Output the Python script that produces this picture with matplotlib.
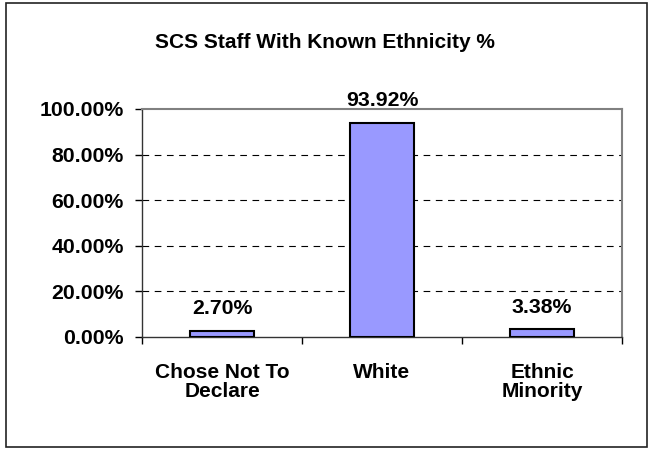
import numpy as np
import matplotlib.pyplot as plt
from matplotlib.patches import Rectangle

plt.rcParams['font.family'] = ['Liberation Sans', 'DejaVu Sans']
plt.rcParams['font.weight'] = 'bold'

# data
categories = ["Chose Not To\nDeclare", "White", "Ethnic\nMinority"]
shares = [2.70, 93.92, 3.38]
labels = ["2.70%", "93.92%", "3.38%"]
yticks = [0, 20, 40, 60, 80, 100]

fig = plt.figure(figsize=(6.5, 4.5), dpi=100)
ax = fig.add_axes([142 / 650, 1 - 337 / 450, 480 / 650, 228 / 450])

x = np.arange(len(categories))
ax.bar(x, shares, width=0.4, color='#9999FF', edgecolor='black', linewidth=1.5, zorder=3)

# value labels above the bars
for xi, v, lab in zip(x, shares, labels):
    ax.annotate(lab, (xi, v), xytext=(0, 12), textcoords='offset points',
                ha='center', va='baseline', fontsize=15.3, fontweight='bold')

ax.set_xlim(-0.5, len(categories) - 0.5)
ax.set_ylim(0, 100)

ax.set_yticks(yticks)
ax.set_yticklabels(["%.2f%%" % t for t in yticks], fontsize=15.3, fontweight='bold')
ax.tick_params(axis='y', direction='out', length=5, width=1, pad=8)

ax.set_xticks(x)
ax.set_xticklabels(categories, fontsize=15, fontweight='bold', linespacing=1.0)
ax.tick_params(axis='x', which='major', length=0, pad=19)
ax.set_xticks(np.arange(-0.5, len(categories)), minor=True)
ax.tick_params(axis='x', which='minor', direction='out', length=5, width=1)

# dashed horizontal grid
for t in yticks[1:-1]:
    ax.axhline(t, color='black', linewidth=0.8, linestyle=(0, (6, 5)), zorder=1)

for side in ['top', 'right']:
    ax.spines[side].set_color('#808080')
    ax.spines[side].set_linewidth(1.5)
for side in ['left', 'bottom']:
    ax.spines[side].set_color('#333333')
    ax.spines[side].set_linewidth(1.0)

fig.text(325 / 650, 1 - 42 / 450, "SCS Staff With Known Ethnicity %",
         ha='center', va='center', fontsize=15, fontweight='bold')

# outer chart frame
fig.patches.append(Rectangle((6 / 650, 3 / 450), 641 / 650, 444 / 450,
                             transform=fig.transFigure, fill=False,
                             edgecolor='#222222', linewidth=1.2))

fig.savefig('out.png', dpi=100)
